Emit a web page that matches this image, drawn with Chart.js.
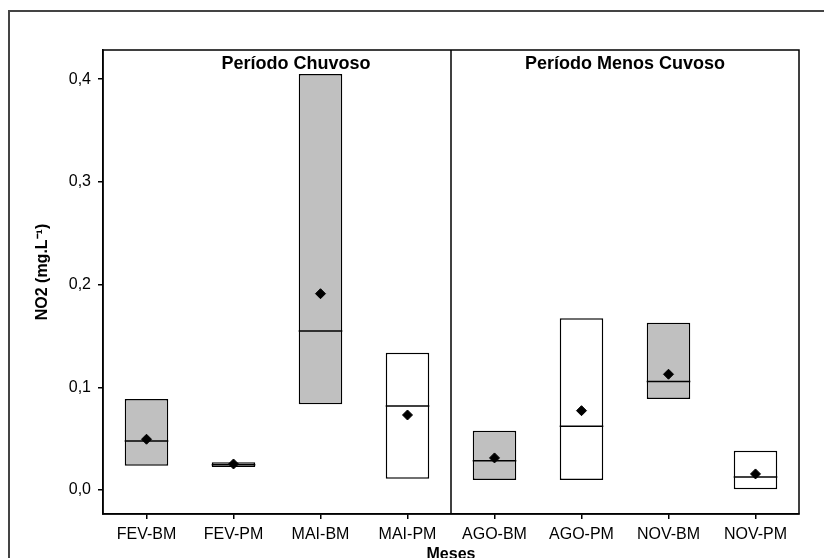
<!DOCTYPE html>
<html>
<head>
<meta charset="utf-8">
<script src="https://cdn.jsdelivr.net/npm/chart.js@4/dist/chart.umd.min.js"></script>
<style>
  html, body { margin: 0; padding: 0; background: #fff; }
  #wrap { width: 824px; height: 558px; }
</style>
</head>
<body>
<div id="wrap"><canvas id="myChart" width="824" height="558"></canvas></div>
<script>
// dados (NO2, mg/L)
var meses = ['FEV-BM', 'FEV-PM', 'MAI-BM', 'MAI-PM', 'AGO-BM', 'AGO-PM', 'NOV-BM', 'NOV-PM'];
var minimos = [0.0237, 0.0224, 0.0834, 0.0110, 0.0097, 0.0097, 0.0886, 0.0000];
var maximos = [0.0886, 0.0270, 0.4050, 0.1337, 0.0577, 0.1672, 0.1629, 0.0383];
var medianas = [0.0477, 0.0246, 0.1548, 0.0818, 0.0285, 0.0620, 0.1055, 0.0127];
var medias = [0.0494, 0.0253, 0.1911, 0.0730, 0.0312, 0.0772, 0.1127, 0.0156];
var ticksY = [0, 0.1, 0.2, 0.3, 0.4];
var periodos = ['Período Chuvoso', 'Período Menos Cuvoso'];

var fonte = '"Liberation Sans", Arial, sans-serif';

// caixas: cinza para BM, branco para PM
var cores = meses.map(function (m) { return m.indexOf('BM') > 0 ? '#c0c0c0' : '#ffffff'; });

var extras = {
    id: 'extras',
    beforeDraw: function (chart) {
        var ctx = chart.ctx;
        ctx.save();
        ctx.fillStyle = '#fff';
        ctx.fillRect(0, 0, chart.width, chart.height);
        ctx.strokeStyle = '#444';
        ctx.lineWidth = 2;
        ctx.strokeRect(9, 11, 900, 900);
        ctx.restore();
    },
    afterDraw: function (chart) {
        var ctx = chart.ctx, a = chart.chartArea, x = chart.scales.x;
        ctx.save();
        ctx.strokeStyle = '#000';
        ctx.lineWidth = 1.5;
        ctx.strokeRect(a.left, a.top, a.right - a.left, a.bottom - a.top);
        // divisão entre os períodos
        var xd = (x.getPixelForValue(3) + x.getPixelForValue(4)) / 2;
        ctx.beginPath();
        ctx.moveTo(xd, a.top);
        ctx.lineTo(xd, a.bottom);
        ctx.stroke();
        ctx.fillStyle = '#000';
        ctx.font = 'bold 18px ' + fonte;
        ctx.textAlign = 'center';
        ctx.textBaseline = 'alphabetic';
        ctx.fillText(periodos[0], xd - 155, 69);
        ctx.fillText(periodos[1], (xd + a.right) / 2, 69);
        // títulos dos eixos
        ctx.font = 'bold 16px ' + fonte;
        ctx.fillText('Meses', (a.left + a.right) / 2, 559);
        ctx.translate(43, 272);
        ctx.rotate(-Math.PI / 2);
        ctx.textBaseline = 'middle';
        ctx.fillText('NO2 (mg.L\u207B\u00B9)', 0, 0);
        ctx.restore();
    }
};

window.onload = function () {
    var ctx = document.getElementById('myChart').getContext('2d');
    new Chart(ctx, {
        type: 'bar',
        data: {
            labels: meses,
            datasets: [{
                type: 'line',
                label: 'Média',
                data: medias,
                showLine: false,
                pointStyle: 'rectRot',
                pointRadius: 5,
                pointBackgroundColor: '#000',
                pointBorderColor: '#000',
                pointBorderWidth: 1,
                order: 0
            }, {
                type: 'line',
                label: 'Mediana',
                data: medianas,
                showLine: false,
                pointStyle: 'line',
                pointRadius: 21.8,
                pointBorderColor: '#000',
                pointBorderWidth: 1.5,
                order: 1
            }, {
                label: 'Intervalo',
                data: minimos.map(function (v, i) { return [v, maximos[i]]; }),
                backgroundColor: cores,
                borderColor: '#000',
                borderWidth: 1.5,
                borderSkipped: false,
                categoryPercentage: 1,
                barPercentage: 0.5,
                order: 2
            }]
        },
        options: {
            responsive: false,
            animation: false,
            layout: { padding: { left: 0, top: 50, right: 25, bottom: 0 } },
            plugins: { legend: { display: false }, tooltip: { enabled: false } },
            scales: {
                x: {
                    offset: true,
                    grid: { offset: false, drawOnChartArea: false, drawTicks: true, tickLength: 5, color: '#000', lineWidth: 1.5 },
                    border: { display: true, color: '#000', width: 1.5 },
                    ticks: { color: '#000', font: { family: fonte, size: 16 }, padding: 6, maxRotation: 0, autoSkip: false },
                    afterFit: function (s) { s.height = 44; }
                },
                y: {
                    min: -0.0234,
                    max: 0.4284,
                    afterBuildTicks: function (s) { s.ticks = ticksY.map(function (v) { return { value: v }; }); },
                    grid: { drawOnChartArea: false, drawTicks: true, tickLength: 5, color: '#000', lineWidth: 1.5 },
                    border: { display: true, color: '#000', width: 1.5 },
                    ticks: {
                        color: '#000',
                        font: { family: fonte, size: 16 },
                        padding: 7,
                        callback: function (v) { return v.toFixed(1).replace('.', ','); }
                    },
                    afterFit: function (s) { s.width = 103; }
                }
            }
        },
        plugins: [extras]
    });
};
</script>
</body>
</html>
